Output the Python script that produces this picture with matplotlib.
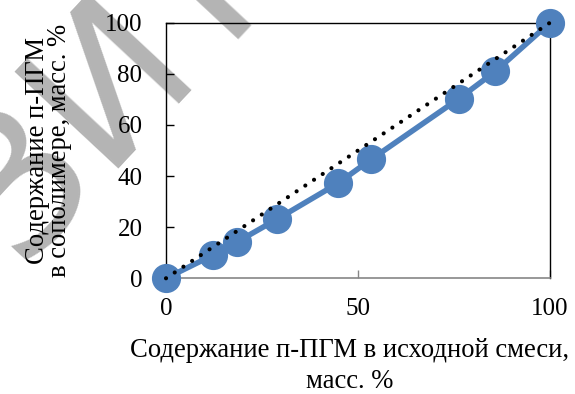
import matplotlib.pyplot as plt

# Composition data (mass %)
FEED_PCT = [0, 12.3, 18.6, 29.0, 44.7, 53.5, 76.2, 85.8, 100]
COPOLYMER_PCT = [0, 9.1, 14.3, 23.2, 37.1, 46.6, 70.2, 81.0, 100]

# Ideal (azeotropic) diagonal
DIAG_X = [0, 100]
DIAG_Y = [0, 100]

X_TICKS = [0, 50, 100]
Y_TICKS = [0, 20, 40, 60, 80, 100]

BLUE = "#4f81bd"
SPINE_GRAY = "#868686"

plt.rcParams["font.family"] = ["Liberation Serif", "DejaVu Serif"]


def main():
    fig = plt.figure(figsize=(5.75, 3.94), dpi=100)
    ax = fig.add_axes([0.2887, 0.2937, 0.6678, 0.6487])
    ax.patch.set_alpha(0)

    # repository watermark behind everything
    fig.text(0.03, 0.33, "ЗИТО", family="DejaVu Sans", fontsize=140,
             color="#b4b4b4", rotation=47, rotation_mode="anchor",
             ha="left", va="baseline", zorder=-5)

    ax.plot(FEED_PCT, COPOLYMER_PCT, color=BLUE, lw=4, marker="o",
            markersize=20, clip_on=False, zorder=3)
    ax.plot(DIAG_X, DIAG_Y, color="black", lw=3,
            linestyle=(0, (0.01, 2.5)), dash_capstyle="round",
            clip_on=False, zorder=4)

    ax.set_xlim(0, 100)
    ax.set_ylim(0, 100)
    ax.set_xticks(X_TICKS)
    ax.set_yticks(Y_TICKS)

    for side in ("left", "top", "right"):
        ax.spines[side].set_color("black")
        ax.spines[side].set_linewidth(1.0)
    ax.spines["bottom"].set_color(SPINE_GRAY)
    ax.spines["bottom"].set_linewidth(1.2)

    ax.tick_params(axis="y", direction="in", length=5.5, width=1.0,
                   color="black", labelsize=18, pad=17)
    ax.tick_params(axis="x", direction="in", length=5.5, width=1.0,
                   color=SPINE_GRAY, labelsize=18, pad=14)

    ax.set_xlabel("Содержание п-ПГМ в исходной смеси,\nмасс. %",
                  fontsize=19.2, linespacing=1.3)
    ax.xaxis.set_label_coords(0.479, -0.234)
    ax.set_ylabel("Содержание п-ПГМ\nв сополимере, масс. %",
                  fontsize=19.2, linespacing=0.85)
    ax.yaxis.set_label_coords(-0.245, 0.5)

    fig.savefig("out.png", dpi=100)


if __name__ == "__main__":
    main()
